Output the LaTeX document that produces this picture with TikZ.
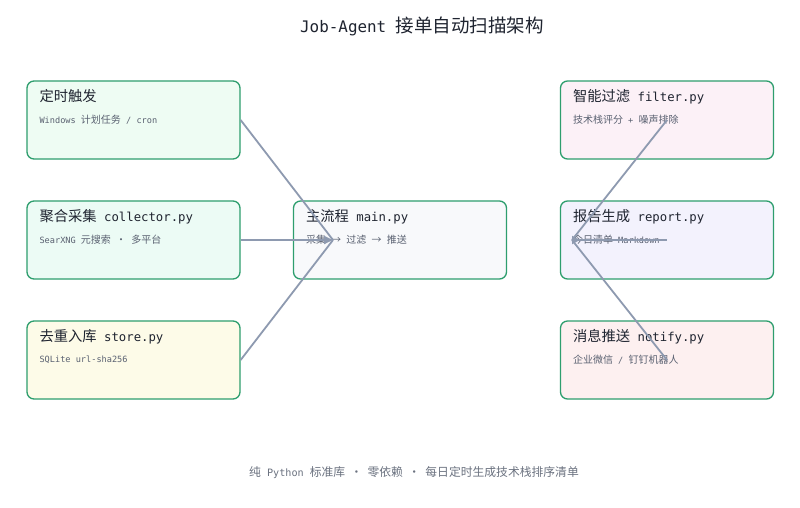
\documentclass[tikz,border=0pt]{standalone}
\usepackage{fontspec}
\setmainfont{DejaVu Sans Mono}[Scale=0.86]
\newfontfamily\zh{Noto Sans CJK SC}
\usetikzlibrary{shapes,arrows.meta,positioning,calc}

\definecolor{edgegreen}{HTML}{2E9E6E}
\definecolor{linegray}{HTML}{8E9AB0}
\definecolor{titlegray}{HTML}{1F2430}
\definecolor{subgray}{HTML}{596070}
\definecolor{footgray}{HTML}{6B7280}
\definecolor{fillmint}{HTML}{EEFCF3}
\definecolor{fillaqua}{HTML}{ECFBF5}
\definecolor{fillcream}{HTML}{FDFBE8}
\definecolor{fillmain}{HTML}{F8F9FB}
\definecolor{fillpink}{HTML}{FCF1F7}
\definecolor{filllav}{HTML}{F3F2FD}
\definecolor{fillrose}{HTML}{FDF0F0}

\tikzset{
  modbox/.style={draw=edgegreen, line width=1.3pt, rounded corners=7pt,
    minimum width=213pt, minimum height=78pt, inner sep=0pt},
  modtitle/.style={anchor=west, inner sep=0pt, text=titlegray,
    font=\fontsize{14.3}{16}\selectfont},
  modsub/.style={anchor=west, inner sep=0pt, text=subgray,
    font=\fontsize{10}{12}\selectfont},
  flow/.style={draw=linegray, line width=1.8pt},
}

\begin{document}
\begin{tikzpicture}[x=1pt, y=-1pt]
\useasboundingbox[fill=white] (0,0) rectangle (800,507);

% 标题
\node[inner sep=0pt, text=titlegray, font=\fontsize{18.5}{20}\selectfont] (title) at (422,26)
  {Job-Agent {\zh 接单自动扫描架构}};

% 左侧模块
\node[modbox, fill=fillmint] (trigger) at (133.5,120) {};
\node[modtitle] (triggerT) at ($(trigger.north west)+(13,16)$) {\zh 定时触发};
\node[modsub] (triggerS) at ($(trigger.north west)+(13,39)$) {Windows {\zh 计划任务} / cron};

\node[modbox, fill=fillaqua] (collector) at (133.5,240) {};
\node[modtitle] (collectorT) at ($(collector.north west)+(13,16)$) {{\zh 聚合采集} collector.py};
\node[modsub] (collectorS) at ($(collector.north west)+(13,39)$) {SearXNG {\zh 元搜索} {\zh ·} {\zh 多平台}};

\node[modbox, fill=fillcream] (store) at (133.5,360) {};
\node[modtitle] (storeT) at ($(store.north west)+(13,16)$) {{\zh 去重入库} store.py};
\node[modsub] (storeS) at ($(store.north west)+(13,39)$) {SQLite url-sha256};

% 主流程
\node[modbox, fill=fillmain] (main) at (400,240) {};
\node[modtitle] (mainT) at ($(main.north west)+(13,16)$) {{\zh 主流程} main.py};
\node[modsub] (mainS) at ($(main.north west)+(13,39)$) {{\zh 采集} {\zh →} {\zh 过滤} {\zh →} {\zh 推送}};

% 右侧模块
\node[modbox, fill=fillpink] (filter) at (667,120) {};
\node[modtitle] (filterT) at ($(filter.north west)+(13,16)$) {{\zh 智能过滤} filter.py};
\node[modsub] (filterS) at ($(filter.north west)+(13,39)$) {{\zh 技术栈评分} + {\zh 噪声排除}};

\node[modbox, fill=filllav] (report) at (667,240) {};
\node[modtitle] (reportT) at ($(report.north west)+(13,16)$) {{\zh 报告生成} report.py};
\node[modsub] (reportS) at ($(report.north west)+(13,39)$) {{\zh 今日清单} Markdown};

\node[modbox, fill=fillrose] (notify) at (667,360) {};
\node[modtitle] (notifyT) at ($(notify.north west)+(13,16)$) {{\zh 消息推送} notify.py};
\node[modsub] (notifyS) at ($(notify.north west)+(13,39)$) {{\zh 企业微信} / {\zh 钉钉机器人}};

% 连线
\coordinate (hubL) at (333,240);
\coordinate (hubR) at (572,240);
\draw[flow] (trigger.east) -- (hubL);
\draw[flow] (store.east) -- (hubL);
\draw[flow, -{Triangle[length=9pt,width=8pt]}] (collector.east) -- (hubL);
\draw[flow] (hubR) -- (filter.center);
\draw[flow] (hubR) -- (notify.center);
\draw[flow, {Triangle[reversed,length=8pt,width=8pt]}-] (hubR) -- (report.center);

% 底部说明
\node[inner sep=0pt, text=footgray, font=\fontsize{11.8}{13}\selectfont] (footer) at (414,473)
  {{\zh 纯} Python {\zh 标准库 ~·~ 零依赖 ~·~ 每日定时生成技术栈排序清单}};
\end{tikzpicture}
\end{document}
